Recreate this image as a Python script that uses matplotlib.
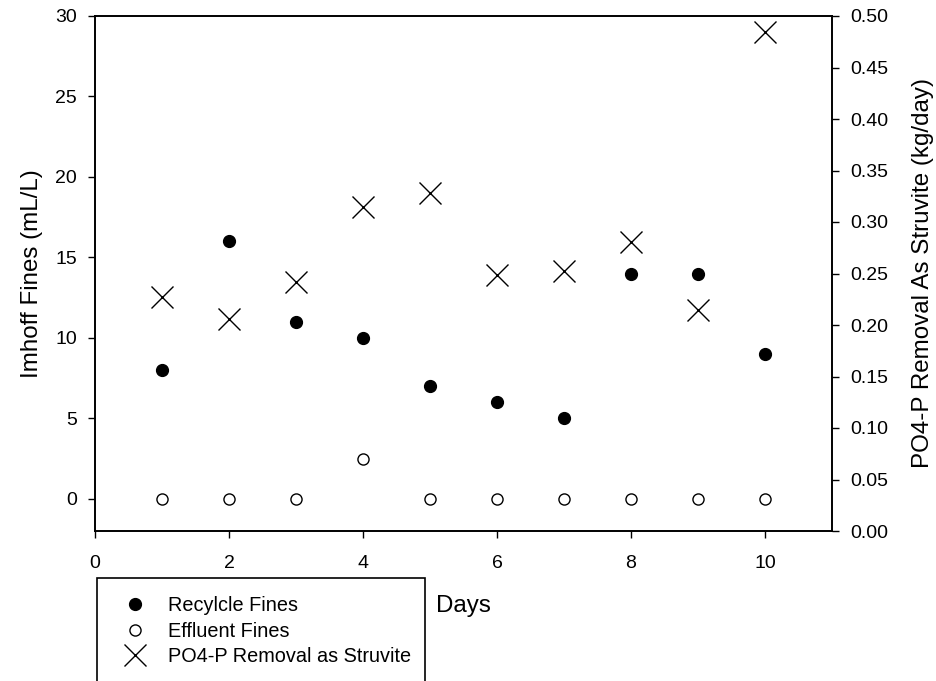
import matplotlib
matplotlib.use("Agg")
import matplotlib.pyplot as plt
from matplotlib.patches import Rectangle
from matplotlib.lines import Line2D

plt.rcParams['font.family'] = ['Liberation Sans', 'DejaVu Sans']

days = [1, 2, 3, 4, 5, 6, 7, 8, 9, 10]
recycle_fines = [8, 16, 11, 10, 7, 6, 5, 14, 14, 9]
effluent_fines = [0, 0, 0, 2.5, 0, 0, 0, 0, 0, 0]
po4_removal = [0.227, 0.206, 0.242, 0.315, 0.328, 0.249, 0.252, 0.281, 0.215, 0.484]

x_ticks = [0, 2, 4, 6, 8, 10]
left_ticks = [0, 5, 10, 15, 20, 25, 30]
right_ticks = [0.00, 0.05, 0.10, 0.15, 0.20, 0.25, 0.30, 0.35, 0.40, 0.45, 0.50]

fig = plt.figure(figsize=(9.37, 6.81), dpi=100)
ax = fig.add_axes([95/937, 1-531/681, (832-95)/937, (531-16)/681])
ax2 = ax.twinx()

ax.plot(days, recycle_fines, linestyle='none', marker='o', markersize=8.5,
        markerfacecolor='black', markeredgecolor='black', label='Recylcle Fines')
ax.plot(days, effluent_fines, linestyle='none', marker='o', markersize=8,
        markerfacecolor='white', markeredgecolor='black', markeredgewidth=1.0,
        label='Effluent Fines')
ax2.plot(days, po4_removal, linestyle='none', marker='x', markersize=16,
         markeredgewidth=1.0, color='black', label='PO4-P Removal as Struvite')

ax.set_xlim(0, 11)
ax.set_ylim(-2, 30)
ax2.set_ylim(0, 0.5)
ax.set_xticks(x_ticks)
ax.set_yticks(left_ticks)
ax2.set_yticks(right_ticks)
ax2.set_yticklabels([f"{v:.2f}" for v in right_ticks])

for a in (ax, ax2):
    a.tick_params(direction='out', length=5, width=1.0, labelsize=14, color='black')
    for s in a.spines.values():
        s.set_linewidth(1.2)
ax.tick_params(axis='y', pad=8)
ax.tick_params(axis='x', pad=12)
ax2.tick_params(axis='y', pad=8)

ax.set_ylabel('Imhoff Fines (mL/L)', fontsize=17.4, labelpad=9)
ax2.set_ylabel('PO4-P Removal As Struvite (kg/day)', fontsize=17.4, labelpad=17)

fig.text(436/937, 1-606/681, 'Days', fontsize=17.4, ha='left', va='center')

fig.patches.append(Rectangle((97/937, -0.05), (425-97)/937, (1-578/681) + 0.05,
                             transform=fig.transFigure, fill=False,
                             edgecolor='black', linewidth=1.2, clip_on=False))

handles = [
    Line2D([], [], linestyle='none', marker='o', markersize=8.5,
           markerfacecolor='black', markeredgecolor='black'),
    Line2D([], [], linestyle='none', marker='o', markersize=8,
           markerfacecolor='white', markeredgecolor='black'),
    Line2D([], [], linestyle='none', marker='x', markersize=16,
           markeredgewidth=1.0, color='black'),
]
labels = ['Recylcle Fines', 'Effluent Fines', 'PO4-P Removal as Struvite']
fig.legend(handles, labels, loc='upper left',
           bbox_to_anchor=(126/937, 1-596/681), frameon=False,
           fontsize=14.3, handlelength=0.9, handletextpad=1.2,
           labelspacing=0.33, borderpad=0, borderaxespad=0)

fig.savefig('out.png', dpi=100)
